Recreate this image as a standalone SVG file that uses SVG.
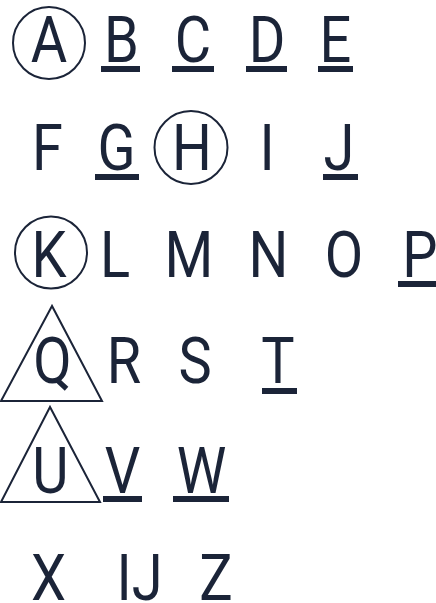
<svg xmlns="http://www.w3.org/2000/svg" width="436" height="603" viewBox="0 0 436 603">
<style>
.t{font-family:Roboto,"Liberation Sans",sans-serif;font-size:65px;font-weight:400;fill:#1b2438;text-anchor:middle}
.u{fill:#1b2438}
.s{fill:none;stroke:#1b2438;stroke-width:2}
</style>
<rect width="436" height="603" fill="#fff"/>
<g id="nodes">
<g id="A"><circle class="s" cx="49" cy="43" r="36"/><text class="t" transform="translate(49,62) scale(0.86,1)">A</text></g>
<g id="B"><text class="t" transform="translate(121.5,62) scale(0.86,1)">B</text><rect class="u" x="101" y="66" width="39" height="6"/></g>
<g id="C"><text class="t" transform="translate(193,62) scale(0.86,1)">C</text><rect class="u" x="172" y="66" width="42" height="6"/></g>
<g id="D"><text class="t" transform="translate(267,62) scale(0.86,1)">D</text><rect class="u" x="246" y="66" width="41" height="6"/></g>
<g id="E"><text class="t" transform="translate(335.5,62) scale(0.86,1)">E</text><rect class="u" x="318" y="66" width="35" height="6"/></g>
<g id="F"><text class="t" transform="translate(47.5,170) scale(0.86,1)">F</text></g>
<g id="G"><text class="t" transform="translate(116.5,170) scale(0.86,1)">G</text><rect class="u" x="95" y="174" width="44" height="6"/></g>
<g id="H"><circle class="s" cx="191" cy="147.5" r="36.5"/><text class="t" transform="translate(192,170) scale(0.86,1)">H</text></g>
<g id="I"><text class="t" transform="translate(267,170) scale(0.86,1)">I</text></g>
<g id="J"><text class="t" transform="translate(339,170) scale(0.86,1)">J</text><rect class="u" x="323" y="174" width="35" height="6"/></g>
<g id="K"><circle class="s" cx="51" cy="252.5" r="36"/><text class="t" transform="translate(49,277) scale(0.86,1)">K</text></g>
<g id="L"><text class="t" transform="translate(115,277) scale(0.86,1)">L</text></g>
<g id="M"><text class="t" transform="translate(189,277) scale(0.86,1)">M</text></g>
<g id="N"><text class="t" transform="translate(268.5,277) scale(0.86,1)">N</text></g>
<g id="O"><text class="t" transform="translate(344,277) scale(0.86,1)">O</text></g>
<g id="P"><text class="t" transform="translate(420,277) scale(0.86,1)">P</text><rect class="u" x="398" y="281" width="40" height="6"/></g>
<g id="Q"><polygon class="s" points="52,306 1,401 102,401"/><text class="t" transform="translate(52.5,383) scale(0.86,1)">Q</text></g>
<g id="R"><text class="t" transform="translate(124,383) scale(0.86,1)">R</text></g>
<g id="S"><text class="t" transform="translate(195,383) scale(0.86,1)">S</text></g>
<g id="T"><text class="t" transform="translate(278,383) scale(0.86,1)">T</text><rect class="u" x="262" y="388" width="35" height="6"/></g>
<g id="U"><polygon class="s" points="50,407 1,502 100,502"/><text class="t" transform="translate(50.5,493) scale(0.86,1)">U</text></g>
<g id="V"><text class="t" transform="translate(122.5,493) scale(0.86,1)">V</text><rect class="u" x="103" y="496" width="39" height="6"/></g>
<g id="W"><text class="t" transform="translate(201.5,493) scale(0.86,1)">W</text><rect class="u" x="173" y="496" width="56" height="6"/></g>
<g id="X"><text class="t" transform="translate(48.5,600) scale(0.86,1)">X</text></g>
<g id="IJ"><text class="t" transform="translate(139.5,600) scale(0.86,1)">IJ</text></g>
<g id="Z"><text class="t" transform="translate(216,600) scale(0.86,1)">Z</text></g>
</g>
<g id="connectors"/>
</svg>
